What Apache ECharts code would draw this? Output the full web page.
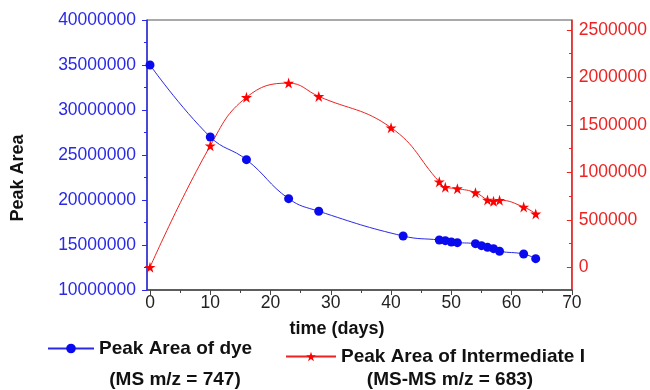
<!DOCTYPE html>
<html>
<head>
<meta charset="utf-8">
<script src="https://cdn.jsdelivr.net/npm/echarts@6/dist/echarts.min.js"></script>
<style>html,body{margin:0;padding:0;background:#fff}#c{width:650px;height:390px}</style>
</head>
<body>
<div id="c"></div>
<script>
// Data
const dyeDays = [0, 10, 16, 23, 28, 42, 48, 49, 50, 51, 54, 55, 56, 57, 58, 62, 64];
const dyeArea = [35000000, 27000000, 24480000, 20150000, 18750000, 16000000, 15560000, 15480000, 15330000, 15260000, 15150000, 14930000, 14740000, 14590000, 14300000, 14000000, 13480000];
const intDays = [0, 10, 16, 23, 28, 40, 48, 49, 51, 54, 56, 57, 58, 62, 64];
const intArea = [0, 1280000, 1790000, 1940000, 1800000, 1470000, 900000, 843000, 828000, 786000, 709000, 695000, 706000, 635000, 562000];
const dyeName = 'Peak Area of dye';
const intName = 'Peak Area of Intermediate I';
const dyeSub = '(MS m/z = 747)';
const intSub = '(MS-MS m/z = 683)';
const xTitle = 'time (days)';
const yTitle = 'Peak Area';
// Tick labels / tick positions
const xTicks = [0, 10, 20, 30, 40, 50, 60, 70];
const xMinorTicks = [5, 15, 25, 35, 45, 55, 65];
const yLeftTicks = [10000000, 15000000, 20000000, 25000000, 30000000, 35000000, 40000000];
const yLeftMinorTicks = [12500000, 17500000, 22500000, 27500000, 32500000, 37500000];
const yRightTicks = [0, 500000, 1000000, 1500000, 2000000, 2500000];
const yRightMinorTicks = [250000, 750000, 1250000, 1750000, 2250000];

const zip = (a, b) => a.map((v, i) => [v, b[i]]);
const BLUE = '#2a2ae6';
const RED = '#ee2222';
const FONT = 'Liberation Sans, Arial, Helvetica, sans-serif';
const X_RANGE = {min: -0.5, max: 70};
const YL_RANGE = {min: 10000000, max: 40000000};
const YR_RANGE = {min: -240000, max: 2605000};
const GRID_BOX = {left: 147, right: 78, top: 20, bottom: 100};

const chart = echarts.init(document.getElementById('c'), null, {renderer: 'canvas'});
chart.setOption({
  animation: false,
  backgroundColor: '#fff',
  grid: [
    {...GRID_BOX, show: true, borderColor: '#555', borderWidth: 1, backgroundColor: 'transparent'},
    {...GRID_BOX, show: false}
  ],
  xAxis: [
    {
      gridIndex: 0, type: 'value', ...X_RANGE, position: 'bottom',
      axisLine: {show: true, onZero: false, lineStyle: {color: '#444', width: 1.5}},
      axisTick: {show: true, inside: false, length: 5, customValues: xTicks, lineStyle: {color: '#444'}},
      splitLine: {show: false},
      axisLabel: {color: '#222', fontSize: 17.5, fontFamily: FONT, margin: 4, customValues: xTicks, formatter: v => String(v)}
    },
    {
      gridIndex: 1, type: 'value', ...X_RANGE, position: 'bottom',
      axisLine: {show: false, onZero: false},
      axisTick: {show: true, inside: false, length: 3, customValues: xMinorTicks, lineStyle: {color: '#444'}},
      splitLine: {show: false},
      axisLabel: {show: false}
    }
  ],
  yAxis: [
    {
      gridIndex: 0, type: 'value', ...YL_RANGE, position: 'left',
      axisLine: {show: true, onZero: false, lineStyle: {color: BLUE, width: 1.5}},
      axisTick: {show: true, inside: false, length: 5, customValues: yLeftTicks, lineStyle: {color: BLUE}},
      splitLine: {show: false},
      axisLabel: {color: BLUE, fontSize: 17.5, fontFamily: FONT, margin: 11, customValues: yLeftTicks, formatter: v => String(v)}
    },
    {
      gridIndex: 0, type: 'value', ...YR_RANGE, position: 'right',
      axisLine: {show: true, onZero: false, lineStyle: {color: RED, width: 1.5}},
      axisTick: {show: true, inside: true, length: 5, customValues: yRightTicks, lineStyle: {color: RED}},
      splitLine: {show: false},
      axisLabel: {color: RED, fontSize: 17.5, fontFamily: FONT, margin: 7, customValues: yRightTicks, formatter: v => String(v)}
    },
    {
      gridIndex: 1, type: 'value', ...YL_RANGE, position: 'left',
      axisLine: {show: false, onZero: false},
      axisTick: {show: true, inside: false, length: 3, customValues: yLeftMinorTicks, lineStyle: {color: BLUE}},
      splitLine: {show: false},
      axisLabel: {show: false}
    },
    {
      gridIndex: 1, type: 'value', ...YR_RANGE, position: 'right',
      axisLine: {show: false, onZero: false},
      axisTick: {show: true, inside: true, length: 3, customValues: yRightMinorTicks, lineStyle: {color: RED}},
      splitLine: {show: false},
      axisLabel: {show: false}
    }
  ],
  legend: [
    {
      data: [dyeName], left: 47, top: 339, padding: 0, itemWidth: 46, itemHeight: 12, itemGap: 0,
      textStyle: {color: '#111', fontSize: 19, fontWeight: 'bold', fontFamily: FONT}
    },
    {
      data: [intName], left: 285, top: 347, padding: 0, itemWidth: 50, itemHeight: 12, itemGap: 0,
      textStyle: {color: '#111', fontSize: 19, fontWeight: 'bold', fontFamily: FONT}
    }
  ],
  graphic: [
    {type: 'text', x: 175, y: 380, style: {text: dyeSub, fill: '#111', font: 'bold 19px ' + FONT, textAlign: 'center', textVerticalAlign: 'middle'}},
    {type: 'text', x: 450, y: 380, style: {text: intSub, fill: '#111', font: 'bold 19px ' + FONT, textAlign: 'center', textVerticalAlign: 'middle'}},
    {type: 'text', x: 337, y: 329, style: {text: xTitle, fill: '#111', font: 'bold 18px ' + FONT, textAlign: 'center', textVerticalAlign: 'middle'}},
    {type: 'text', x: 18.5, y: 178, rotation: Math.PI / 2, style: {text: yTitle, fill: '#111', font: 'bold 18px ' + FONT, textAlign: 'center', textVerticalAlign: 'middle'}}
  ],
  series: [
    {
      name: dyeName, type: 'line', xAxisIndex: 0, yAxisIndex: 0, data: zip(dyeDays, dyeArea),
      smooth: 0.45, symbol: 'circle', symbolSize: 9,
      lineStyle: {color: BLUE, width: 1}, itemStyle: {color: '#0a0aee'}, z: 3
    },
    {
      name: intName, type: 'line', xAxisIndex: 0, yAxisIndex: 1, data: zip(intDays, intArea),
      smooth: 0.45,
      symbol: 'path://M50,0 L61.2,34.5 L97.6,34.5 L68.2,55.9 L79.4,90.5 L50,69.1 L20.6,90.5 L31.8,55.9 L2.4,34.5 L38.8,34.5 Z',
      symbolSize: 11,
      lineStyle: {color: RED, width: 1}, itemStyle: {color: '#ff0000'}, z: 2
    }
  ]
});
</script>
</body>
</html>
